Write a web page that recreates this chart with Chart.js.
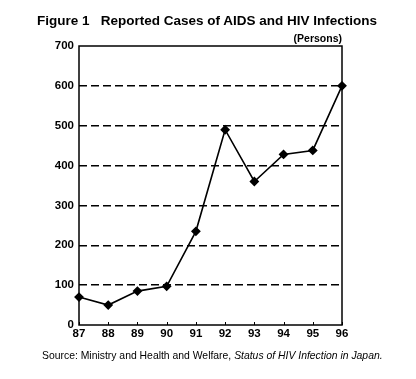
<!DOCTYPE html>
<html>
<head>
<meta charset="utf-8">
<script src="https://cdn.jsdelivr.net/npm/chart.js@4"></script>
<style>
  html, body { margin: 0; padding: 0; background: #fff; }
  #wrap { position: relative; width: 416px; height: 379px; font-family: "Liberation Sans", Arial, sans-serif; color: #000; }
  #chart { position: absolute; left: 0; top: 0; }
  .txt { position: absolute; white-space: pre; line-height: 1; }
  #title { left: 37px; top: 14px; font-weight: bold; font-size: 13.5px; }
  #unit { right: 74px; top: 33px; font-weight: bold; font-size: 10.5px; }
  #source { left: 42px; top: 351px; font-size: 10.4px; }
</style>
</head>
<body>
<div id="wrap">
  <canvas id="chart" width="416" height="379"></canvas>
  <div class="txt" id="title">Figure 1   Reported Cases of AIDS and HIV Infections</div>
  <div class="txt" id="unit">(Persons)</div>
  <div class="txt" id="source">Source: Ministry and Health and Welfare, <i>Status of HIV Infection in Japan.</i></div>
</div>
<script>
const years = ['87', '88', '89', '90', '91', '92', '93', '94', '95', '96'];
const cases = [70, 50, 85, 97, 235, 490, 360, 428, 438, 600];
const yTicks = [0, 100, 200, 300, 400, 500, 600, 700];

const ctx = document.getElementById('chart');

// frame round the plot area + small inner ticks on the x axis
const boxPlugin = {
  id: 'box',
  beforeDatasetsDraw(chart) {
    const { ctx, chartArea: a } = chart;
    const x = chart.scales.x;
    ctx.save();
    ctx.strokeStyle = '#000';
    ctx.lineWidth = 1.5;
    ctx.strokeRect(a.left, a.top, a.right - a.left, a.bottom - a.top);
    ctx.lineWidth = 1;
    ctx.beginPath();
    years.forEach((y, i) => {
      const px = Math.round(x.getPixelForValue(i)) + 0.5;
      ctx.moveTo(px, a.bottom);
      ctx.lineTo(px, a.bottom - 3);
    });
    ctx.stroke();
    ctx.restore();
  }
};

new Chart(ctx, {
  type: 'line',
  data: {
    labels: years,
    datasets: [{
      data: cases,
      borderColor: '#000',
      backgroundColor: '#000',
      borderWidth: 1.6,
      pointStyle: 'rectRot',
      pointRadius: 3.8,
      tension: 0
    }]
  },
  options: {
    responsive: false,
    animation: false,
    layout: {
      padding: { left: 0, right: 74, top: 46, bottom: 34 }
    },
    plugins: {
      legend: { display: false },
      tooltip: { enabled: false }
    },
    scales: {
      x: {
        offset: false,
        grid: { display: false, drawTicks: false },
        border: { display: false },
        ticks: {
          color: '#000',
          padding: 2,
          maxRotation: 0,
          font: { family: 'Liberation Sans', size: 11.5, weight: 'bold' }
        },
        afterFit(scale) { scale.height = 20; }
      },
      y: {
        min: 0,
        max: 700,
        grid: {
          color: c => (c.tick.value === 0 || c.tick.value === 700) ? 'rgba(0,0,0,0)' : '#000',
          lineWidth: 1.4,
          drawTicks: false
        },
        border: { display: false, dash: [8, 4] },
        afterBuildTicks(scale) { scale.ticks = yTicks.map(v => ({ value: v })); },
        ticks: {
          color: '#000',
          padding: 5,
          font: { family: 'Liberation Sans', size: 11.5, weight: 'bold' }
        },
        afterFit(scale) { scale.width = 79; }
      }
    }
  },
  plugins: [boxPlugin]
});
</script>
</body>
</html>
